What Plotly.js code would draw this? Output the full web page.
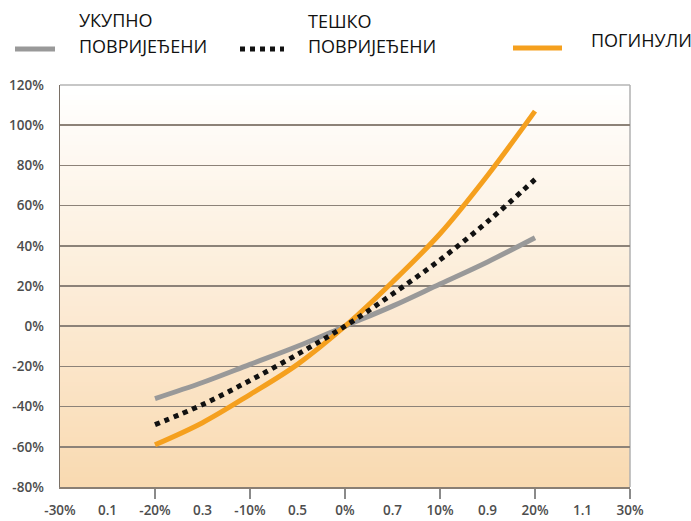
<!DOCTYPE html>
<html>
<head>
<meta charset="utf-8">
<script src="https://cdn.plot.ly/plotly-3.0.1.min.js"></script>
<style>html,body{margin:0;padding:0;background:#fff;}#chart{width:691px;height:521px;}</style>
</head>
<body>
<div id="chart"></div>
<script>
// ---- data ----
const speedChange = [-20, -15, -10, -5, 0, 5, 10, 15, 20];        // % change in mean speed
const injuredAll   = [-36, -28, -19, -10, 0, 10, 21, 32, 44];      // УКУПНО ПОВРИЈЕЂЕНИ
const injuredSevere = [-49, -39, -27, -14, 0, 16, 33, 52, 73];     // ТЕШКО ПОВРИЈЕЂЕНИ
const killed       = [-59, -48, -34, -19, 0, 22, 46, 75, 107];     // ПОГИНУЛИ

const xTickVals = [-30, -25, -20, -15, -10, -5, 0, 5, 10, 15, 20, 25, 30];
const xTickText = ['-30%', '0.1', '-20%', '0.3', '-10%', '0.5', '0%', '0.7', '10%', '0.9', '20%', '1.1', '30%'];
const xMinorTicks = [-20, -10, 0, 10, 20, 30];
const yTickVals = [-80, -60, -40, -20, 0, 20, 40, 60, 80, 100, 120];
const yTickText = ['-80%', '-60%', '-40%', '-20%', '0%', '20%', '40%', '60%', '80%', '100%', '120%'];

const seriesLine1 = ['УКУПНО', 'ТЕШКО', ''];
const seriesLine2 = ['ПОВРИЈЕЂЕНИ', 'ПОВРИЈЕЂЕНИ', 'ПОГИНУЛИ'];

// ---- styles ----
const GRAY = '#999999', ORANGE = '#f5a01e', BLACK = '#111111';
const W = 691, H = 521;
const M = {l: 60, r: 61, t: 85, b: 34};
const pw = W - M.l - M.r, ph = H - M.t - M.b;
const px = x => (x - M.l) / pw;
const py = y => (H - M.b - y) / ph;

const traces = [
  {x: speedChange, y: injuredAll, mode: 'lines', line: {color: GRAY, width: 5, shape: 'spline'}, showlegend: false, hoverinfo: 'skip'},
  {x: speedChange, y: killed, mode: 'lines', line: {color: ORANGE, width: 5, shape: 'spline'}, showlegend: false, hoverinfo: 'skip'},
  {x: speedChange, y: injuredSevere, mode: 'lines', line: {color: BLACK, width: 5, dash: 'dot', shape: 'spline'}, showlegend: false, hoverinfo: 'skip'}
];

// background vertical gradient as thin bands below gridlines
const shapes = [];
const gradTop = [255, 255, 255], gradBot = [249, 218, 177];
const N = 80;
for (let i = 0; i < N; i++) {
  const f = i / (N - 1);
  const c = gradTop.map((t, k) => Math.round(t + (gradBot[k] - t) * f));
  shapes.push({type: 'rect', xref: 'paper', yref: 'paper', layer: 'below',
    x0: 0, x1: 1, y0: 1 - (i + 1) / N - 0.002, y1: 1 - i / N,
    fillcolor: 'rgb(' + c.join(',') + ')', line: {width: 0}});
}
// top and right border (lighter)
shapes.push({type: 'line', xref: 'paper', yref: 'paper', x0: 0, x1: 1, y0: 1, y1: 1, line: {color: '#b5b5b5', width: 1.5}, layer: 'between'});
shapes.push({type: 'line', xref: 'paper', yref: 'paper', x0: 1, x1: 1, y0: 0, y1: 1, line: {color: '#b0b0b0', width: 1.5}, layer: 'between'});

// legend samples
const legY = [49, 49, 48];
shapes.push({type: 'line', xref: 'paper', yref: 'paper', x0: px(15), x1: px(55), y0: py(legY[0]), y1: py(legY[0]), line: {color: GRAY, width: 5}});
shapes.push({type: 'line', xref: 'paper', yref: 'paper', x0: px(240), x1: px(284), y0: py(legY[1]), y1: py(legY[1]), line: {color: BLACK, width: 5, dash: 'dot'}});
shapes.push({type: 'line', xref: 'paper', yref: 'paper', x0: px(513), x1: px(562), y0: py(legY[2]), y1: py(legY[2]), line: {color: ORANGE, width: 5}});

const legFont = {family: 'Open Sans', size: 18, color: '#111'};
const annotations = [
  {text: seriesLine1[0], x: px(77), y: py(20)},
  {text: seriesLine2[0], x: px(77), y: py(46)},
  {text: seriesLine1[1], x: px(306), y: py(21)},
  {text: seriesLine2[1], x: px(306), y: py(46)},
  {text: seriesLine2[2], x: px(589), y: py(40)}
].map(a => Object.assign({xref: 'paper', yref: 'paper', xanchor: 'left', yanchor: 'middle', showarrow: false, font: legFont}, a));

const tickFont = {family: 'Open Sans', size: 13.5, color: '#4d4d4d', weight: 600};

const layout = {
  width: W, height: H,
  margin: M,
  paper_bgcolor: '#ffffff',
  plot_bgcolor: 'rgba(0,0,0,0)',
  showlegend: false,
  xaxis: {
    range: [-30, 30], tickmode: 'array', tickvals: xTickVals, ticktext: xTickText,
    ticks: 'outside', ticklen: 10, tickcolor: 'rgba(0,0,0,0)',
    minor: {tickmode: 'array', tickvals: xMinorTicks, ticks: 'outside', ticklen: 10, tickcolor: '#8a8a8a', tickwidth: 1.5, showgrid: false},
    showgrid: false, zeroline: false,
    showline: true, linecolor: '#8a7f74', linewidth: 1.5,
    tickfont: tickFont, fixedrange: true
  },
  yaxis: {
    range: [-80, 120], tickmode: 'array', tickvals: yTickVals, ticktext: yTickText,
    ticks: '', ticklabelstandoff: 12,
    showgrid: true, gridcolor: '#8c8278', gridwidth: 1.5,
    zeroline: false,
    showline: true, linecolor: '#7a7066', linewidth: 1.5,
    tickfont: tickFont, fixedrange: true
  },
  shapes: shapes,
  annotations: annotations
};

Plotly.newPlot('chart', traces, layout, {displayModeBar: false, staticPlot: true});
</script>
</body>
</html>
